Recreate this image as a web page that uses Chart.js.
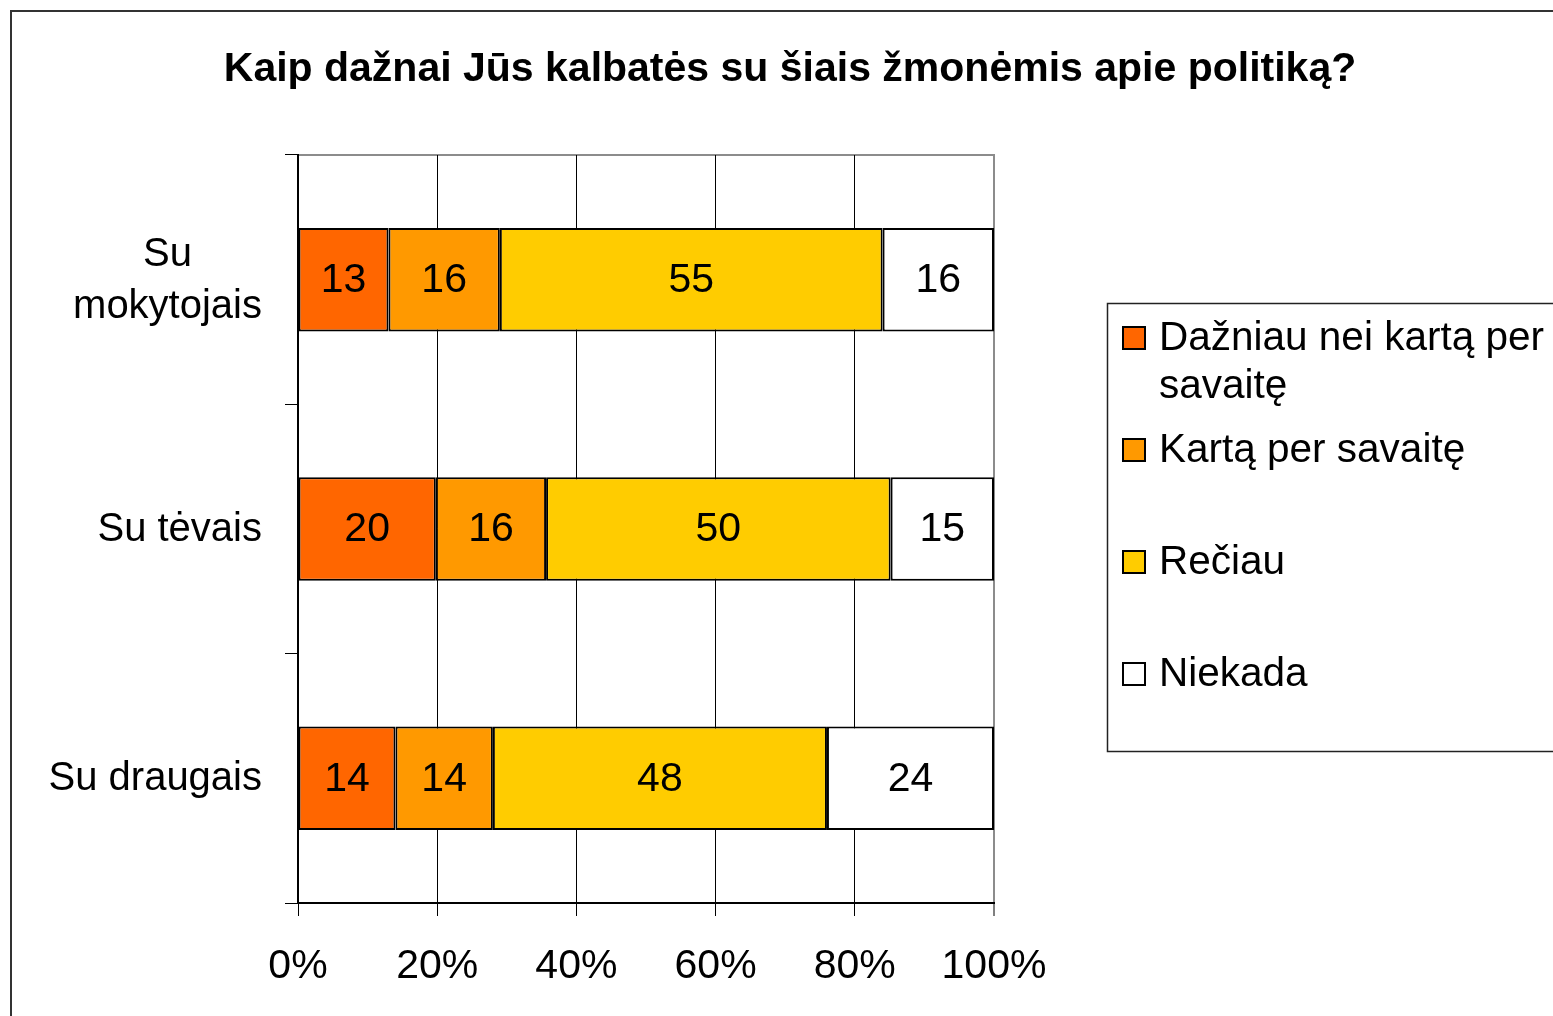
<!DOCTYPE html>
<html>
<head>
<meta charset="utf-8">
<script src="https://cdn.jsdelivr.net/npm/chart.js@4.4.0/dist/chart.umd.min.js"></script>
<style>
  html, body { margin: 0; padding: 0; background: #fff; }
  #wrap { width: 1553px; height: 1016px; position: relative; }
</style>
</head>
<body>
<div id="wrap"><canvas id="c" width="1553" height="1016"></canvas></div>
<script>
// ---- data ----
const titleText = 'Kaip dažnai Jūs kalbatės su šiais žmonėmis apie politiką?';
const categories = [['Su', 'mokytojais'], ['Su tėvais'], ['Su draugais']];
const seriesNames = ['Dažniau nei kartą per savaitę', 'Kartą per savaitę', 'Rečiau', 'Niekada'];
const oftenValues = [13, 20, 14];
const weeklyValues = [16, 16, 14];
const rarelyValues = [55, 50, 48];
const neverValues = [16, 15, 24];
const xTickValues = [0, 20, 40, 60, 80, 100];
const seriesColors = ['#FF6600', '#FF9900', '#FFCC00', '#FFFFFF'];

const rawSeries = [oftenValues, weeklyValues, rarelyValues, neverValues];
const totals = categories.map((_, i) => rawSeries.reduce((s, arr) => s + arr[i], 0));
const pctSeries = rawSeries.map(arr => arr.map((v, i) => v / totals[i] * 100));

const FONT = '"Liberation Sans", Arial, sans-serif';

const framePlugin = {
  id: 'frame',
  beforeDraw(chart) {
    const ctx = chart.ctx;
    ctx.save();
    ctx.fillStyle = '#fff';
    ctx.fillRect(0, 0, chart.width, chart.height);
    // outer border
    ctx.strokeStyle = '#333';
    ctx.lineWidth = 2;
    ctx.strokeRect(11, 11, 1700, 1200);
    // plot area border (gray)
    const a = chart.chartArea;
    ctx.strokeStyle = '#8c8c8c';
    ctx.lineWidth = 2;
    ctx.strokeRect(a.left, a.top, a.right - a.left, a.bottom - a.top);
    ctx.restore();
  },
  afterDraw(chart) {
    const ctx = chart.ctx;
    ctx.save();
    // title
    ctx.fillStyle = '#000';
    ctx.font = 'bold 41px ' + FONT;
    ctx.textAlign = 'center';
    ctx.textBaseline = 'middle';
    ctx.fillText(titleText, 790, 70);

    // category labels
    const ys = chart.scales.y;
    ctx.font = '40px ' + FONT;
    const rightX = 262;
    categories.forEach((lines, i) => {
      const cy = ys.getPixelForValue(i);
      const w = Math.max(...lines.map(l => ctx.measureText(l).width));
      const cx = rightX - w / 2;
      const lh = 52;
      const y0 = cy - (lines.length - 1) * lh / 2;
      lines.forEach((l, k) => {
        ctx.textAlign = 'center';
        ctx.fillText(l, cx, y0 + k * lh + 1);
      });
    });

    // legend
    const lx = 1107, ly = 303, lb = 751;
    ctx.strokeStyle = '#222';
    ctx.lineWidth = 1.5;
    ctx.strokeRect(lx + 0.5, ly + 0.5, 1000, lb - ly);
    ctx.font = '40.5px ' + FONT;
    ctx.textAlign = 'left';
    const maxW = 1553 - 1159 - 2;
    chart.data.datasets.forEach((ds, i) => {
      const cy = 338 + i * 112;
      ctx.fillStyle = ds.backgroundColor;
      ctx.fillRect(1123, cy - 11, 22, 22);
      ctx.strokeStyle = '#000';
      ctx.lineWidth = 2;
      ctx.strokeRect(1123, cy - 11, 22, 22);
      // wrap
      const words = ds.label.split(' ');
      const lines = [];
      let cur = '';
      words.forEach(w => {
        const t = cur ? cur + ' ' + w : w;
        if (ctx.measureText(t).width > maxW && cur) { lines.push(cur); cur = w; }
        else cur = t;
      });
      lines.push(cur);
      ctx.fillStyle = '#000';
      lines.forEach((l, k) => ctx.fillText(l, 1159, cy + 1 + k * 48));
    });
    ctx.restore();
  },
  afterDatasetsDraw(chart) {
    const ctx = chart.ctx;
    ctx.save();
    ctx.font = '41px ' + FONT;
    ctx.fillStyle = '#000';
    ctx.textAlign = 'center';
    ctx.textBaseline = 'middle';
    chart.data.datasets.forEach((ds, di) => {
      const meta = chart.getDatasetMeta(di);
      meta.data.forEach((el, i) => {
        const cx = (el.x + el.base) / 2;
        ctx.fillText(String(rawSeries[di][i]), cx, el.y + 1);
      });
    });
    ctx.restore();
  }
};

new Chart(document.getElementById('c'), {
  type: 'bar',
  data: {
    labels: categories,
    datasets: seriesNames.map((name, i) => ({
      label: name,
      data: pctSeries[i],
      backgroundColor: seriesColors[i],
      borderColor: '#000',
      borderWidth: 2,
      borderSkipped: false,
      barPercentage: 0.415,
      categoryPercentage: 1.0
    }))
  },
  options: {
    indexAxis: 'y',
    responsive: false,
    animation: false,
    devicePixelRatio: 1,
    layout: { padding: { left: 0, right: 559, top: 155, bottom: 0 } },
    plugins: {
      legend: { display: false },
      title: { display: false },
      tooltip: { enabled: false }
    },
    scales: {
      x: {
        stacked: true,
        min: 0,
        max: 100,
        afterBuildTicks(scale) { scale.ticks = xTickValues.map(v => ({ value: v })); },
        afterFit(scale) { scale.height = 1016 - 903; },
        ticks: {
          callback: v => v + '%',
          color: '#000',
          font: { family: FONT, size: 41 },
          padding: 26,
          maxRotation: 0
        },
        grid: {
          color: ctx => (ctx.index === 5 ? '#8c8c8c' : '#000'),
          lineWidth: ctx => (ctx.index === 5 ? 2 : 1),
          tickLength: 13,
          tickColor: '#000',
          tickWidth: 1
        },
        border: { display: true, color: '#000', width: 2 }
      },
      y: {
        stacked: true,
        afterFit(scale) { scale.width = 298; },
        ticks: { display: false },
        grid: {
          offset: true,
          drawOnChartArea: false,
          tickLength: 13,
          color: '#000',
          lineWidth: 1
        },
        border: { display: true, color: '#000', width: 2 }
      }
    }
  },
  plugins: [framePlugin]
});
</script>
</body>
</html>
